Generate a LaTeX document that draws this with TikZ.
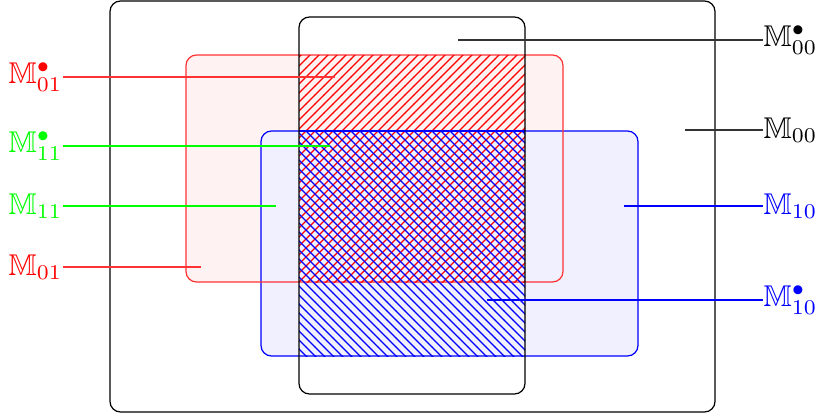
\documentclass[tikz,border=0pt]{standalone}
\usepackage{amssymb}
\usetikzlibrary{patterns}
\newcommand{\mplain}[1]{$\mathbb{M}_{#1}$}
\newcommand{\mdot}[1]{$\mathbb{M}^{\bullet}_{#1}$}

\begin{document}
\begin{tikzpicture}[
      x=0.3333pt, y=-0.3333pt,
      every node/.style={inner sep=0pt},
      frame/.style={draw, rounded corners=3.5pt},
      redset/.style={fill=red!5, rounded corners=3.5pt},
      blueset/.style={draw=blue, fill=blue!6, rounded corners=3.5pt},
      leftlab/.style={anchor=west},
      rightlab/.style={anchor=west}
    ]
      \useasboundingbox (0,0) rectangle (817,419);

      % the two sets and their overlap
      \draw[frame] (110,1) rectangle (715,412);
      \path[redset] (186,55) rectangle (563,282);
      \path[blueset] (261,131) rectangle (638,356);
      \draw[red!80, rounded corners=3.5pt] (186,55) rectangle (563,282);
      \fill[pattern=north east lines, pattern color=red] (299,55) rectangle (525,282);
      \fill[pattern=north west lines, pattern color=blue] (299,131) rectangle (525,356);
      \draw[blue] (299,131) -- (525,131);
      \draw[frame] (299,17) rectangle (525,394);

      % labels on the left
      \node[leftlab, red] (m01dot) at (8,77) {\mdot{01}};
      \node[leftlab, green] (m11dot) at (8,146) {\mdot{11}};
      \node[leftlab, green] (m11) at (8,206) {\mplain{11}};
      \node[leftlab, red] (m01) at (8,267) {\mplain{01}};

      % labels on the right
      \node[rightlab] (m00dot) at (763,40) {\mdot{00}};
      \node[rightlab] (m00) at (763,130) {\mplain{00}};
      \node[rightlab, blue] (m10) at (763,206) {\mplain{10}};
      \node[rightlab, blue] (m10dot) at (763,300) {\mdot{10}};

      % where the pointers end
      \coordinate (p01dot) at (335,77);
      \coordinate (p11dot) at (330,146);
      \coordinate (p11) at (276,206);
      \coordinate (p01) at (201,267);
      \coordinate (p00dot) at (458,40);
      \coordinate (p00) at (685,130);
      \coordinate (p10) at (624,206);
      \coordinate (p10dot) at (487,300);

      \draw[red!80, thin] (m01dot.east) -- (p01dot);
      \draw[green, thin] (m11dot.east) -- (p11dot);
      \draw[green, thin] (m11.east) -- (p11);
      \draw[red!80, thin] (m01.east) -- (p01);
      \draw[black!80, thin] (p00dot) -- (m00dot.west);
      \draw[black!80, thin] (p00) -- (m00.west);
      \draw[blue, thin] (p10) -- (m10.west);
      \draw[blue, thin] (p10dot) -- (m10dot.west);
    \end{tikzpicture}
\end{document}
